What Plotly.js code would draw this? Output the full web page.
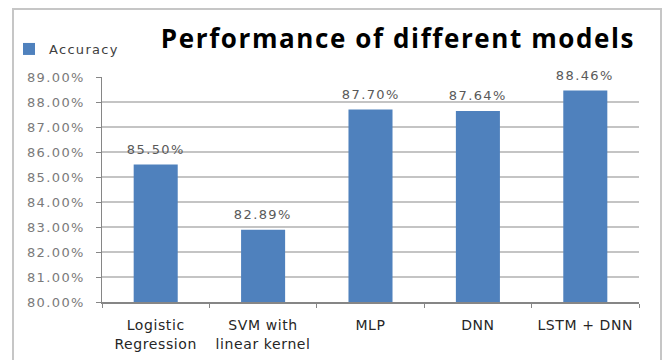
<!DOCTYPE html>
<html>
<head>
<meta charset="utf-8">
<script src="https://cdn.plot.ly/plotly-3.0.1.min.js"></script>
<style>
  html, body { margin: 0; padding: 0; background: #fff; }
  #frame { position: absolute; left: 12px; top: 8px; width: 650px; height: 360px;
           border: 2px solid #c6c6c6; box-sizing: border-box; }
  #chart { position: absolute; left: 0; top: 0; width: 666px; height: 360px; }
  .ytick text, .annotation-text.val { letter-spacing: 1.4px; }
  .xtick text { letter-spacing: 0.6px; }
  .legendtext { letter-spacing: 1.3px; }
  .gtitle { letter-spacing: 1.6px; }
</style>
</head>
<body>
<div id="frame"></div>
<div id="chart"></div>
<script>
const categories = ["Logistic<br>Regression", "SVM with<br>linear kernel", "MLP", "DNN", "LSTM + DNN"];
const accuracy = [85.50, 82.89, 87.70, 87.64, 88.46];
const valueLabels = ["85.50%", "82.89%", "87.70%", "87.64%", "88.46%"];
const yTickVals = [80, 81, 82, 83, 84, 85, 86, 87, 88, 89];
const yTickText = ["80.00%", "81.00%", "82.00%", "83.00%", "84.00%", "85.00%", "86.00%", "87.00%", "88.00%", "89.00%"];

const trace = {
  type: "bar",
  name: "Accuracy",
  x: categories,
  y: accuracy,
  marker: { color: "#4f81bd", line: { width: 0 } },
  hoverinfo: "x+y"
};

const annotations = categories.map((c, i) => ({
  x: c, y: accuracy[i], xref: "x", yref: "y",
  text: valueLabels[i], showarrow: false,
  yanchor: "bottom", yshift: 6,
  font: { family: "DejaVu Sans", size: 13, color: "#595959" }
}));

const layout = {
  width: 666, height: 360,
  margin: { l: 102, r: 27, t: 77, b: 58, autoexpand: false },
  paper_bgcolor: "rgba(0,0,0,0)",
  plot_bgcolor: "rgba(0,0,0,0)",
  bargap: 0.59,
  title: {
    text: "<b>Performance of different models</b>",
    font: { family: "Open Sans", size: 26, color: "#000" },
    xref: "container", x: 398 / 666, xanchor: "center",
    yref: "container", y: 1 - 39 / 360, yanchor: "middle"
  },
  showlegend: true,
  legend: {
    xref: "container", yref: "container",
    x: 19 / 666, y: 1 - 49 / 360, xanchor: "left", yanchor: "middle",
    indentation: -10,
    font: { family: "DejaVu Sans", size: 13, color: "#404040" },
    bgcolor: "rgba(0,0,0,0)", borderwidth: 0
  },
  xaxis: {
    type: "category", automargin: false,
    showline: true, linecolor: "#868686", linewidth: 1.5,
    ticks: "outside", tickson: "boundaries", ticklen: 4, tickcolor: "#868686", tickwidth: 1,
    showgrid: false,
    tickfont: { family: "DejaVu Sans", size: 14, color: "#262626" },
    ticklabelstandoff: 10
  },
  yaxis: {
    range: [80, 89], automargin: false,
    tickvals: yTickVals, ticktext: yTickText,
    showline: true, linecolor: "#868686", linewidth: 1.5,
    ticks: "outside", ticklen: 5, tickcolor: "#868686", tickwidth: 1,
    showgrid: true, gridcolor: "#c4c4c4", gridwidth: 1.6,
    zeroline: false,
    tickfont: { family: "DejaVu Sans", size: 13, color: "#7a7a7a" },
    ticklabelstandoff: 8
  },
  annotations: annotations
};

Plotly.newPlot("chart", [trace], layout, { displayModeBar: false, staticPlot: true }).then(() => {
  document.querySelectorAll(".annotation-text").forEach(t => t.classList.add("val"));
});
</script>
</body>
</html>
